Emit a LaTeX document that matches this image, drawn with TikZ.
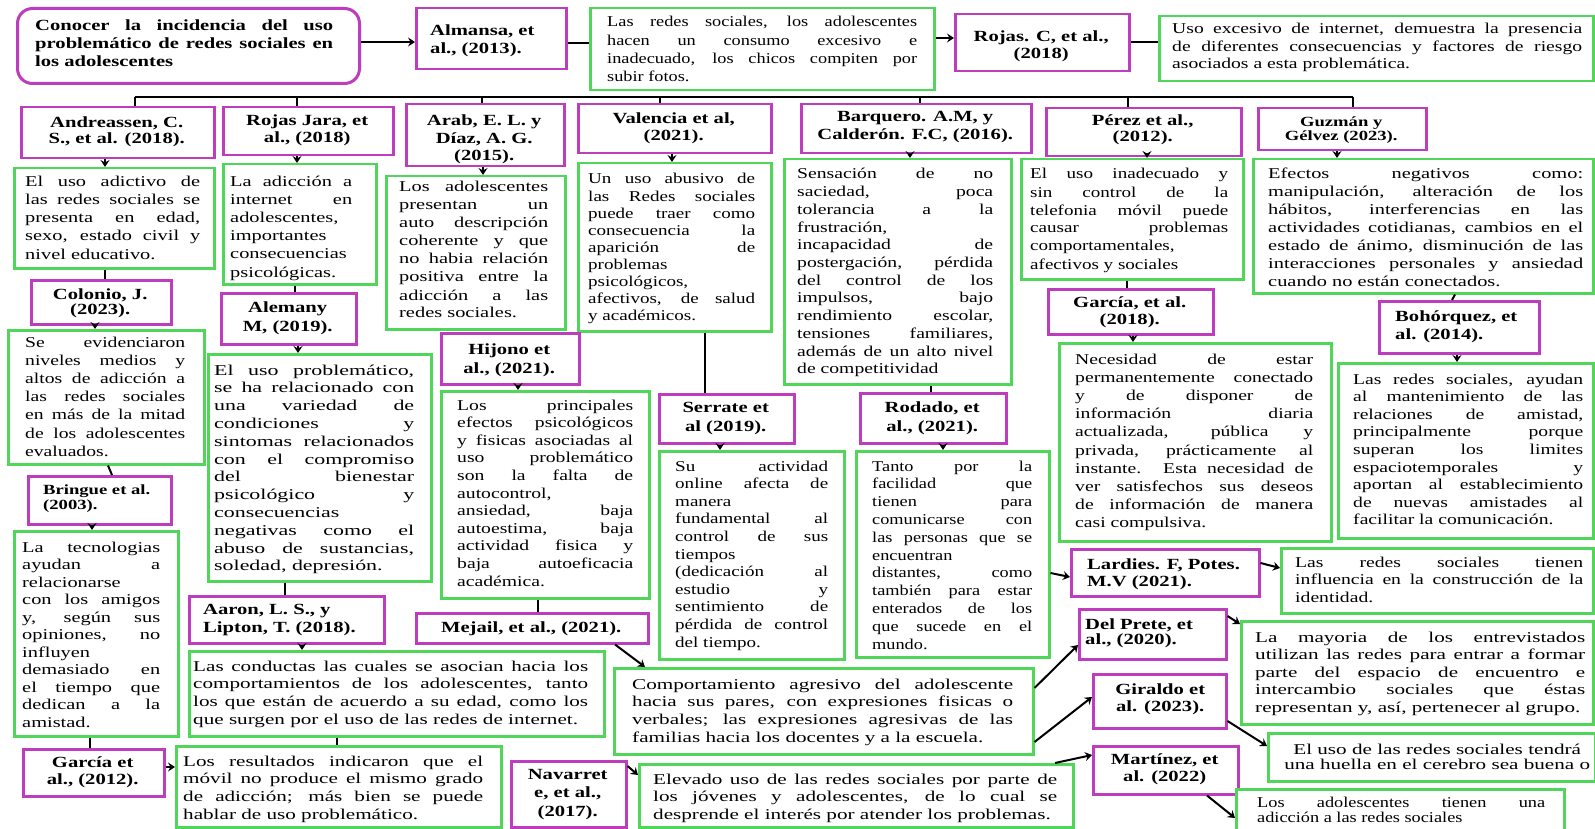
\documentclass[tikz,border=0pt]{standalone}
\usepackage{fontspec}
\setmainfont{Liberation Serif}[FakeStretch=1.33]
\newfontfamily\sA{Liberation Serif}[FakeStretch=1.22]
\newfontfamily\sB{Liberation Serif}[FakeStretch=1.27]
\newfontfamily\sC{Liberation Serif}[FakeStretch=1.31]
\newfontfamily\sD{Liberation Serif}[FakeStretch=1.36]
\newfontfamily\sE{Liberation Serif}[FakeStretch=1.41]
\newfontfamily\sF{Liberation Serif}[FakeStretch=1.46]
\usetikzlibrary{arrows.meta}
\definecolor{grn}{RGB}{80,215,90}
\definecolor{mag}{RGB}{190,60,190}
\hbadness=10000 \hfuzz=200pt
\newcommand\J[1]{\hbox to\hsize{#1}}
\newcommand\LL[1]{\hbox to\hsize{#1\hfil}}
\newcommand\CC[1]{\hbox to\hsize{\hfil#1\hfil}}
\newcommand\fb[1]{\fontsize{15}{#1}\selectfont}
\newcommand\ft[1]{\bfseries\fontsize{15.5}{#1}\selectfont}
\tikzset{
  gb/.style={draw=grn, line width=2.5pt, inner sep=0pt, anchor=north west, fill=white},
  mb/.style={draw=mag, line width=2.5pt, inner sep=0pt, anchor=north west, fill=white},
  txt/.style={anchor=base west, inner sep=0pt},
  con/.style={line width=2pt, black},
  arr/.style={con, -{Stealth[length=7pt,width=9pt,inset=2.5pt]}},
}
\newcommand\bx[6]{%
  \pgfmathsetmacro\bw{#5-#3}\pgfmathsetmacro\bh{#6-#4}%
  \node[#2, minimum width=\bw pt, minimum height=\bh pt] (#1) at (#3,#4) {};}
\newcommand\tx[6]{\node[txt,#2] (#1) at (#3,#4) {\vtop{\hsize=#5pt\relax#6}};}
\begin{document}
\begin{tikzpicture}[x=1pt,y=-1pt]
\fill[white] (0,0) rectangle (1595,829);
\useasboundingbox (0,0) rectangle (1595,829);
% ---------- boxes ----------
\node[draw=mag, line width=3pt, rounded corners=15pt, inner sep=0pt, anchor=north west,
      minimum width=342pt, minimum height=75pt, fill=white] (main) at (16,7) {};
\bx{alm}{mb}{415}{7}{565}{68}
\bx{almt}{gb}{589}{7}{933}{89}
\bx{rojc}{mb}{954}{13}{1128}{70}
\bx{rojct}{gb}{1158}{15}{1592}{80}
\bx{and}{mb}{20}{106}{213}{157}
\bx{rjj}{mb}{222}{106}{392}{154}
\bx{arab}{mb}{405}{103}{563}{165}
\bx{val}{mb}{577}{103}{770}{152}
\bx{barq}{mb}{800}{103}{1030}{152}
\bx{perez}{mb}{1045}{107}{1240}{155}
\bx{guz}{mb}{1257}{107}{1425}{149}
\bx{andt}{gb}{13}{167}{213}{267}
\bx{rjjt}{gb}{222}{163}{375}{283}
\bx{arabt}{gb}{385}{175}{564}{328}
\bx{valt}{gb}{577}{162}{770}{330}
\bx{barqt}{gb}{783}{158}{1010}{383}
\bx{perezt}{gb}{1020}{158}{1242}{278}
\bx{guzt}{gb}{1252}{158}{1592}{292}
\bx{col}{mb}{30}{279}{170}{323}
\bx{colt}{gb}{7}{329}{203}{463}
\bx{bri}{mb}{27}{475}{170}{523}
\bx{brit}{gb}{13}{530}{177}{735}
\bx{gar12}{mb}{22}{748}{163}{795}
\bx{gar12t}{gb}{175}{745}{500}{826}
\bx{ale}{mb}{220}{292}{355}{343}
\bx{alet}{gb}{207}{353}{430}{580}
\bx{aar}{mb}{188}{595}{383}{642}
\bx{aart}{gb}{188}{650}{603}{735}
\bx{hij}{mb}{440}{332}{578}{383}
\bx{hijt}{gb}{440}{390}{648}{597}
\bx{mej}{mb}{415}{612}{647}{642}
\bx{ser}{mb}{658}{393}{793}{442}
\bx{sert}{gb}{658}{450}{843}{658}
\bx{rod}{mb}{859}{392}{1005}{442}
\bx{rodt}{gb}{855}{450}{1048}{656}
\bx{gar18}{mb}{1047}{288}{1212}{333}
\bx{gar18t}{gb}{1058}{342}{1330}{540}
\bx{boh}{mb}{1378}{300}{1538}{352}
\bx{boht}{gb}{1337}{362}{1592}{537}
\bx{lar}{mb}{1070}{548}{1258}{595}
\bx{lart}{gb}{1280}{547}{1592}{612}
\bx{delp}{mb}{1078}{608}{1225}{658}
\bx{delpt}{gb}{1240}{620}{1592}{723}
\bx{gir}{mb}{1092}{673}{1225}{727}
\bx{girt}{gb}{1267}{732}{1594}{780}
\bx{mar}{mb}{1092}{745}{1237}{793}
\bx{mart}{gb}{1235}{788}{1563}{840}
\bx{comp}{gb}{613}{667}{1032}{753}
\bx{nav}{mb}{510}{760}{625}{826}
\bx{elev}{gb}{638}{763}{1072}{826}
% ---------- texts ----------
\tx{mainx}{font={\ft{18}}}{35}{31}{298}{\J{Conocer la incidencia del uso}\J{problemático de redes sociales en}\LL{los adolescentes}}
\tx{almx}{font={\ft{18}}}{430}{36}{130}{\LL{Almansa, et}\LL{al., (2013).}}
\tx{almtx}{font={\sA\fb{18.3}}}{607}{27}{310}{\J{Las redes sociales, los adolescentes}\J{hacen un consumo excesivo e}\J{inadecuado, los chicos compiten por}\LL{subir fotos.}}
\tx{rojcx}{font={\ft{17}}}{954}{42}{174}{\CC{Rojas. C, et al.,}\CC{(2018)}}
\tx{rojctx}{font={\sC\fb{17.5}}}{1172}{34}{410}{\J{Uso excesivo de internet, demuestra la presencia}\J{de diferentes consecuencias y factores de riesgo}\LL{asociados a esta problemática.}}
\tx{andx}{font={\ft{16}}}{20}{128}{193}{\CC{Andreassen, C.}\CC{S., et al. (2018).}}
\tx{rjjx}{font={\ft{17}}}{222}{126}{170}{\CC{Rojas Jara, et}\CC{al., (2018)}}
\tx{arabx}{font={\ft{17.5}}}{405}{126}{158}{\CC{Arab, E. L. y}\CC{Díaz, A. G.}\CC{(2015).}}
\tx{valx}{font={\ft{17}}}{577}{124}{193}{\CC{Valencia et al,}\CC{(2021).}}
\tx{barqx}{font={\ft{18}}}{800}{122}{230}{\CC{Barquero. A.M, y}\CC{Calderón. F.C, (2016).}}
\tx{perezx}{font={\ft{16}}}{1045}{126}{195}{\CC{Pérez et al.,}\CC{(2012).}}
\tx{guzx}{font={\bfseries\fontsize{14}{14}\selectfont}}{1257}{127}{168}{\CC{Guzmán y}\CC{Gélvez (2023).}}
\tx{andtx}{font={\sD\fb{18.3}}}{25}{186}{175}{\J{El uso adictivo de}\J{las redes sociales se}\J{presenta en edad,}\J{sexo, estado civil y}\LL{nivel educativo.}}
\tx{rjjtx}{font={\sD\fb{18.2}}}{230}{186}{122}{\J{La adicción a}\J{internet en}\J{adolescentes,}\J{importantes}\J{consecuencias}\LL{psicológicas.}}
\tx{arabtx}{font={\sD\fb{18}}}{399}{192}{149}{\J{Los adolescentes}\J{presentan un}\J{auto descripción}\J{coherente y que}\J{no habia relación}\J{positiva entre la}\J{adicción a las}\LL{redes sociales.}}
\tx{valtx}{font={\sB\fb{17.1}}}{588}{184}{167}{\J{Un uso abusivo de}\J{las Redes sociales}\J{puede traer como}\J{consecuencia la}\J{aparición de}\J{problemas}\J{psicológicos,}\J{afectivos, de salud}\LL{y académicos.}}
\tx{barqtx}{font={\sC\fb{17.7}}}{797}{179}{196}{\J{Sensación de no}\J{saciedad, poca}\J{tolerancia a la}\J{frustración,}\J{incapacidad de}\J{postergación, pérdida}\J{del control de los}\J{impulsos, bajo}\J{rendimiento escolar,}\J{tensiones familiares,}\J{además de un alto nivel}\LL{de competitividad}}
\tx{pereztx}{font={\sB\fb{18}}}{1030}{179}{198}{\J{El uso inadecuado y}\J{sin control de la}\J{telefonia móvil puede}\J{causar problemas}\J{comportamentales,}\LL{afectivos y sociales}}
\tx{guztx}{font={\sD\fb{17.9}}}{1268}{179}{315}{\J{Efectos negativos como:}\J{manipulación, alteración de los}\J{hábitos, interferencias en las}\J{actividades cotidianas, cambios en el}\J{estado de ánimo, disminución de las}\J{interacciones personales y ansiedad}\LL{cuando no están conectados.}}
\tx{colx}{font={\ft{15.5}}}{30}{299}{140}{\CC{Colonio, J.}\CC{(2023).}}
\tx{coltx}{font={\sC\fb{18.2}}}{25}{347}{160}{\J{Se evidenciaron}\J{niveles medios y}\J{altos de adicción a}\J{las redes sociales}\J{en más de la mitad}\J{de los adolescentes}\LL{evaluados.}}
\tx{brix}{font={\bfseries\fontsize{14}{15}\selectfont}}{43}{494}{120}{\LL{Bringue et al.}\LL{(2003).}}
\tx{britx}{font={\sD\fb{17.5}}}{22}{552}{138}{\J{La tecnologias}\J{ayudan a}\J{relacionarse}\J{con los amigos}\J{y, según sus}\J{opiniones, no}\J{influyen}\J{demasiado en}\J{el tiempo que}\J{dedican a la}\LL{amistad.}}
\tx{gar12x}{font={\ft{17}}}{22}{767}{141}{\CC{García et}\CC{al., (2012).}}
\tx{gar12tx}{font={\sE\fb{17.7}}}{183}{766}{300}{\J{Los resultados indicaron que el}\J{móvil no produce el mismo grado}\J{de adicción; más bien se puede}\LL{hablar de uso problemático.}}
\tx{alex}{font={\ft{19}}}{220}{312}{135}{\CC{Alemany}\CC{M, (2019).}}
\tx{aletx}{font={\sF\fb{17.8}}}{214}{375}{200}{\J{El uso problemático,}\J{se ha relacionado con}\J{una variedad de}\J{condiciones y}\J{sintomas relacionados}\J{con el compromiso}\J{del bienestar}\J{psicológico y}\J{consecuencias}\J{negativas como el}\J{abuso de sustancias,}\LL{soledad, depresión.}}
\tx{aarx}{font={\ft{18}}}{203}{614}{175}{\LL{Aaron, L. S., y}\LL{Lipton, T. (2018).}}
\tx{aartx}{font={\sE\fb{17.7}}}{193}{671}{395}{\J{Las conductas las cuales se asocian hacia los}\J{comportamientos de los adolescentes, tanto}\J{los que están de acuerdo a su edad, como los}\LL{que surgen por el uso de las redes de internet.}}
\tx{hijx}{font={\ft{19}}}{440}{354}{138}{\CC{Hijono et}\CC{al., (2021).}}
\tx{hijtx}{font={\sC\fb{17.6}}}{457}{410}{176}{\J{Los principales}\J{efectos psicológicos}\J{y fisicas asociadas al}\J{uso problemático}\J{son la falta de}\J{autocontrol,}\J{ansiedad, baja}\J{autoestima, baja}\J{actividad fisica y}\J{baja autoeficacia}\LL{académica.}}
\tx{mejx}{font={\ft{17}}}{415}{632}{232}{\CC{Mejail, et al., (2021).}}
\tx{serx}{font={\ft{19}}}{658}{412}{135}{\CC{Serrate et}\CC{al (2019).}}
\tx{sertx}{font={\sB\fb{17.6}}}{675}{471}{153}{\J{Su actividad}\J{online afecta de}\J{manera}\J{fundamental al}\J{control de sus}\J{tiempos}\J{(dedicación al}\J{estudio y}\J{sentimiento de}\J{pérdida de control}\LL{del tiempo.}}
\tx{rodx}{font={\ft{19}}}{859}{412}{146}{\CC{Rodado, et}\CC{al., (2021).}}
\tx{rodtx}{font={\sA\fb{17.8}}}{872}{471}{160}{\J{Tanto por la}\J{facilidad que}\J{tienen para}\J{comunicarse con}\J{las personas que se}\J{encuentran}\J{distantes, como}\J{también para estar}\J{enterados de los}\J{que sucede en el}\LL{mundo.}}
\tx{gar18x}{font={\ft{17}}}{1047}{307}{165}{\CC{García, et al.}\CC{(2018).}}
\tx{gar18tx}{font={\sC\fb{18.2}}}{1075}{364}{238}{\J{Necesidad de estar}\J{permanentemente conectado}\J{y de disponer de}\J{información diaria}\J{actualizada, pública y}\J{privada, prácticamente al}\J{instante. Esta necesidad de}\J{ver satisfechos sus deseos}\J{de información de manera}\LL{casi compulsiva.}}
\tx{bohx}{font={\ft{18}}}{1395}{321}{140}{\LL{Bohórquez, et}\LL{al. (2014).}}
\tx{bohtx}{font={\sC\fb{17.6}}}{1353}{384}{230}{\J{Las redes sociales, ayudan}\J{al mantenimiento de las}\J{relaciones de amistad,}\J{principalmente porque}\J{superan los limites}\J{espaciotemporales y}\J{aportan al establecimiento}\J{de nuevas amistades al}\LL{facilitar la comunicación.}}
\tx{larx}{font={\ft{17}}}{1087}{569}{170}{\LL{Lardies. F, Potes.}\LL{M.V (2021).}}
\tx{lartx}{font={\sC\fb{17.5}}}{1295}{567}{288}{\J{Las redes sociales tienen}\J{influencia en la construcción de la}\LL{identidad.}}
\tx{delpx}{font={\ft{15.5}}}{1085}{629}{140}{\LL{Del Prete, et}\LL{al., (2020).}}
\tx{delptx}{font={\sE\fb{17.5}}}{1255}{642}{330}{\J{La mayoria de los entrevistados}\J{utilizan las redes para entrar a formar}\J{parte del espacio de encuentro e}\J{intercambio sociales que éstas}\LL{representan y, así, pertenecer al grupo.}}
\tx{girx}{font={\ft{17}}}{1092}{694}{136}{\CC{Giraldo et}\CC{al. (2023).}}
\tx{girtx}{font={\sE\fb{15.5}}}{1267}{754}{340}{\CC{El uso de las redes sociales tendrá}\CC{una huella en el cerebro sea buena o}}
\tx{marx}{font={\ft{17}}}{1092}{764}{145}{\CC{Martínez, et}\CC{al. (2022)}}
\tx{martx}{font={\sA\fb{15}}}{1257}{807}{288}{\J{Los adolescentes tienen una}\LL{adicción a las redes sociales}}
\tx{compx}{font={\sE\fb{17.7}}}{632}{689}{381}{\J{Comportamiento agresivo del adolescente}\J{hacia sus pares, con expresiones fisicas o}\J{verbales; las expresiones agresivas de las}\LL{familias hacia los docentes y a la escuela.}}
\tx{navx}{font={\ft{18.5}}}{510}{779}{115}{\CC{Navarret}\CC{e, et al.,}\CC{(2017).}}
\tx{elevx}{font={\sE\fb{17.5}}}{653}{784}{404}{\J{Elevado uso de las redes sociales por parte de}\J{los jóvenes y adolescentes, de lo cual se}\LL{desprende el interés por atender los problemas.}}
% ---------- connectors ----------
\draw[arr] (main.east |- 0,42) -- (alm.west |- 0,42);
\draw[con] (alm.east |- 0,43) -- (almt.west |- 0,43);
\draw[arr] (almt.east |- 0,38) -- (rojc.west |- 0,38);
\draw[con] (rojc.east |- 0,42) -- (rojct.west |- 0,42);
% bar
\coordinate (t1) at (135,97);
\coordinate (t2) at (297,97);
\coordinate (t3) at (482,97);
\coordinate (t4) at (660,97);
\coordinate (t5) at (920,97);
\coordinate (t6) at (1128,97);
\coordinate (t7) at (1353,97);
\draw[con] (t1) -- (t7);
\draw[con] (t1) -- (t1 |- and.north);
\draw[con] (t2) -- (t2 |- rjj.north);
\draw[con] (t3) -- (t3 |- arab.north);
\draw[con] (t4) -- (t4 |- val.north);
\draw[con] (t5) -- (t5 |- barq.north);
\draw[con] (t6) -- (t6 |- perez.north);
\draw[con] (t7) -- (t7 |- guz.north);
% row 2 -> row 3
\draw[arr] (and.south -| 105,0) -- (andt.north -| 105,0);
\draw[arr] (rjj.south -| 297,0) -- (rjjt.north -| 297,0);
\draw[arr] (arab.south -| 483,0) -- (arabt.north -| 483,0);
\draw[arr] (val.south -| 672,0) -- (valt.north -| 672,0);
\draw[arr] (barq.south -| 910,0) -- (barqt.north -| 910,0);
\draw[arr] (perez.south -| 1147,0) -- (perezt.north -| 1147,0);
\draw[arr] (guz.south -| 1337,0) -- (guzt.north -| 1337,0);
% column 1
\draw[con] (andt.south -| 105,0) -- (col.north -| 105,0);
\draw[arr] (col.south -| 95,0) -- (colt.north -| 95,0);
\draw[con] (colt.south -| 108,0) -- (bri.north -| 112,0);
\draw[arr] (bri.south -| 92,0) -- (brit.north -| 92,0);
\draw[con] (brit.south -| 90,0) -- (gar12.north -| 90,0);
\draw[arr] (gar12.east |- 0,767) -- (gar12t.west |- 0,767);
% column 2
\draw[con] (rjjt.south -| 295,0) -- (ale.north -| 295,0);
\draw[arr] (ale.south -| 298,0) -- (alet.north -| 298,0);
\draw[con] (alet.south -| 285,0) -- (aar.north -| 285,0);
\draw[arr] (aar.south -| 302,0) -- (aart.north -| 302,0);
\draw[con] (aart.south -| 337,0) -- (gar12t.north -| 337,0);
% column 3
\draw[arr] (hij.south -| 518,0) -- (hijt.north -| 518,0);
\draw[con] (hijt.south -| 538,0) -- (mej.north -| 538,0);
\draw[arr] (mej.south -| 615,0) -- (comp.north -| 645,0);
% column 4
\draw[con] (valt.south -| 705,0) -- (ser.north -| 705,0);
\draw[arr] (ser.south -| 720,0) -- (sert.north -| 720,0);
% column 5
\draw[con] (barqt.south -| 931,0) -- (rod.north -| 931,0);
\draw[arr] (rod.south -| 943,0) -- (rodt.north -| 943,0);
\draw[arr] (rodt.east |- 0,573) -- (lar.west |- 0,577);
% column 6
\draw[con] (perezt.south -| 1127,0) -- (gar18.north -| 1127,0);
\draw[arr] (gar18.south -| 1133,0) -- (gar18t.north -| 1133,0);
% column 7
\draw[con] (guzt.south -| 1455,0) -- (boh.north -| 1452,0);
\draw[arr] (boh.south -| 1457,0) -- (boht.north -| 1457,0);
% lower right
\draw[arr] (lar.east |- 0,563) -- (lart.west |- 0,568);
\draw[arr] (delp.east |- 0,616) -- (delpt.west |- 0,624);
\draw[arr] (gir.east |- 0,721) -- (girt.west |- 0,746);
\draw[arr] (mar.south -| 1207,0) -- (mart.west |- 0,818);
\draw[arr] (comp.east |- 0,688) -- (delp.west |- 0,645);
\draw[arr] (comp.east |- 0,742) -- (gir.west |- 0,697);
\draw[arr] (nav.east |- 0,766) -- (elev.west |- 0,775);
\draw[arr] (elev.north -| 1055,0) -- (mar.west |- 0,755);
\end{tikzpicture}
\end{document}
